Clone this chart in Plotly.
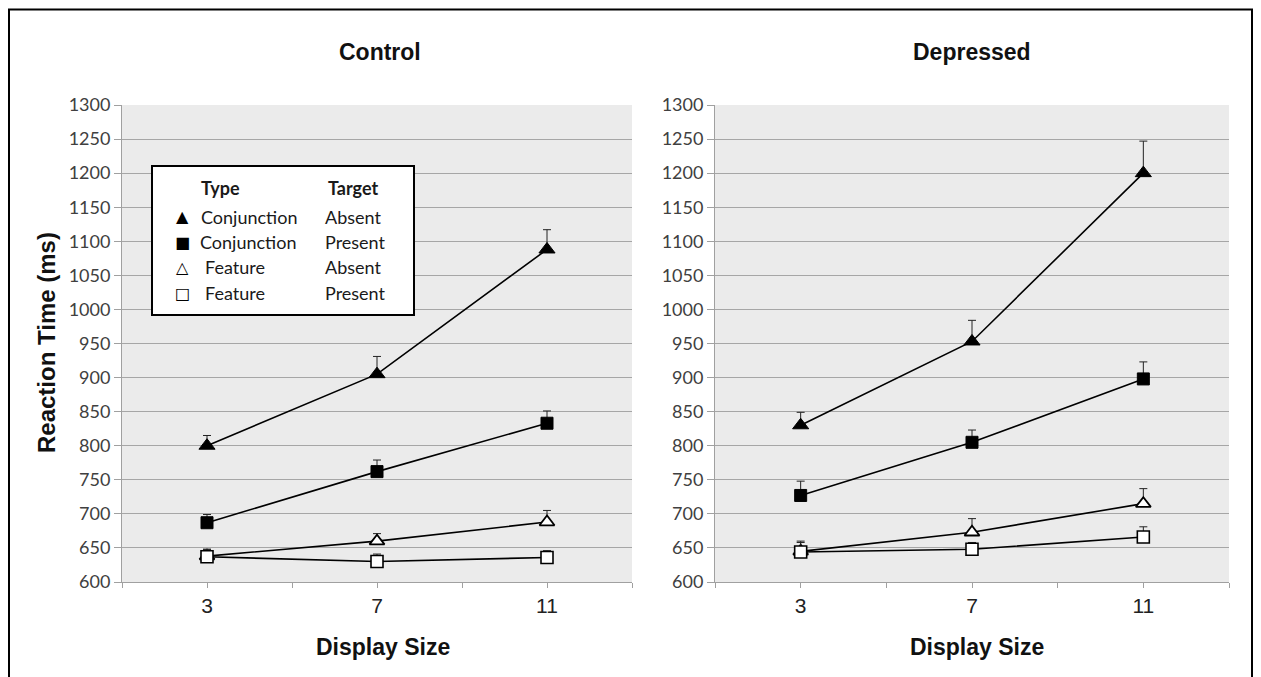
import plotly.graph_objects as go

# page body has an 8px default margin; the figure is sized to fit the 1261x677 window
OFF = 8
W, H = 1261 - OFF, 677 - OFF

display_sizes = [3, 7, 11]
x_tick_vals = [1, 3, 5, 7, 9, 11, 13]
x_tick_text = ["", "3", "", "7", "", "11", ""]
y_tick_vals = list(range(600, 1301, 50))

panel_titles = ["Control", "Depressed"]
x_title = "Display Size"
y_title = "Reaction Time (ms)"
series_types = ["Conjunction", "Conjunction", "Feature", "Feature"]
series_targets = ["Absent", "Present", "Absent", "Present"]

# Control group
control_conj_absent = [800, 905, 1088]
control_conj_present = [687, 762, 833]
control_feat_absent = [638, 660, 688]
control_feat_present = [637, 630, 636]
control_conj_absent_err = [15, 26, 29]
control_conj_present_err = [12, 17, 18]
control_feat_absent_err = [10, 11, 17]
control_feat_present_err = [11, 11, 10]

# Depressed group
depr_conj_absent = [830, 953, 1200]
depr_conj_present = [727, 805, 898]
depr_feat_absent = [645, 673, 715]
depr_feat_present = [644, 648, 666]
depr_conj_absent_err = [19, 31, 47]
depr_conj_present_err = [21, 18, 25]
depr_feat_absent_err = [15, 20, 22]
depr_feat_present_err = [14, 10, 15]


def px(x):
    return (x - OFF) / W


def py(y):
    return 1 - (y - OFF) / H


styles = [
    dict(symbol="triangle-up", size=14, color="black", lw=1),
    dict(symbol="square", size=12, color="black", lw=1),
    dict(symbol="triangle-up", size=13, color="white", lw=1.8),
    dict(symbol="square", size=12, color="white", lw=1.6),
]

groups = [
    ([control_conj_absent, control_conj_present, control_feat_absent, control_feat_present],
     [control_conj_absent_err, control_conj_present_err, control_feat_absent_err, control_feat_present_err]),
    ([depr_conj_absent, depr_conj_present, depr_feat_absent, depr_feat_present],
     [depr_conj_absent_err, depr_conj_present_err, depr_feat_absent_err, depr_feat_present_err]),
]

fig = go.Figure()

for gi, (vals, errs) in enumerate(groups):
    xa = "x" if gi == 0 else "x2"
    ya = "y" if gi == 0 else "y2"
    for si in range(4):
        st = styles[si]
        fig.add_trace(go.Scatter(
            x=display_sizes, y=vals[si], xaxis=xa, yaxis=ya,
            mode="lines+markers",
            line=dict(color="black", width=1.6),
            marker=dict(symbol=st["symbol"], size=st["size"], color=st["color"],
                        line=dict(color="black", width=st["lw"])),
            error_y=dict(type="data", symmetric=False, array=errs[si],
                         arrayminus=[0, 0, 0], color="#222222", thickness=1, width=4),
            showlegend=False,
            name=f"{series_types[si]} {series_targets[si]}",
        ))

axis_common_x = dict(
    range=[1, 13], tickvals=x_tick_vals, ticktext=x_tick_text,
    ticks="outside", ticklen=5, tickcolor="#a0a0a0", tickwidth=1,
    showline=True, linecolor="#a0a0a0", linewidth=1, showgrid=False, zeroline=False,
    tickfont=dict(family="Liberation Sans, Arial", size=21, color="#222222"),
    automargin=False,
    fixedrange=True,
)
axis_common_y = dict(
    range=[600, 1300], tickvals=y_tick_vals,
    ticks="outside", ticklen=7, tickcolor="#a0a0a0", tickwidth=1,
    showline=True, linecolor="#a0a0a0", linewidth=1,
    showgrid=True, gridcolor="#a6a6a6", gridwidth=1, zeroline=False,
    tickfont=dict(family="Lato, Open Sans", size=18, color="#404040"),
    automargin=False,
    fixedrange=True,
)

fig.update_layout(
    width=W, height=H,
    margin=dict(l=0, r=0, t=0, b=0, autoexpand=False),
    paper_bgcolor="white",
    plot_bgcolor="#ebebeb",
    xaxis=dict(domain=[px(122), px(632)], anchor="y", **axis_common_x),
    yaxis=dict(domain=[py(582), py(105)], anchor="x", **axis_common_y),
    xaxis2=dict(domain=[px(715), px(1229)], anchor="y2", **axis_common_x),
    yaxis2=dict(domain=[py(582), py(105)], anchor="x2", **axis_common_y),
    showlegend=False,
)

title_font = dict(family="Liberation Sans, Arial", size=23, color="#111111")

# Panel titles and x-axis titles
for cx, t in zip([380, 972], panel_titles):
    fig.add_annotation(x=px(cx), y=py(52), xref="paper", yref="paper", text=f"<b>{t}</b>",
                       showarrow=False, xanchor="center", yanchor="middle", font=title_font)
for cx in [383, 977]:
    fig.add_annotation(x=px(cx), y=py(647), xref="paper", yref="paper", text=f"<b>{x_title}</b>",
                       showarrow=False, xanchor="center", yanchor="middle", font=title_font)

# y-axis title
fig.add_annotation(x=px(46), y=py(343), xref="paper", yref="paper", text=f"<b>{y_title}</b>",
                   showarrow=False, xanchor="center", yanchor="middle", textangle=-90,
                   font=dict(family="Liberation Sans, Arial", size=24, color="#111111"))

# Outer frame
fig.add_shape(type="rect", xref="paper", yref="paper",
              x0=px(9), x1=px(1252), y0=py(700), y1=py(9.5),
              line=dict(color="black", width=2), fillcolor="rgba(0,0,0,0)", layer="above")

# Legend box
fig.add_shape(type="rect", xref="paper", yref="paper",
              x0=px(152), x1=px(414), y0=py(315), y1=py(166),
              line=dict(color="black", width=2), fillcolor="white", layer="above")

legend_font = dict(family="Lato, Open Sans", size=18, color="#1a1a1a")
fig.add_annotation(x=px(199), y=py(188), xref="paper", yref="paper", text="<b>Type</b>",
                   showarrow=False, xanchor="left", yanchor="middle", font=legend_font)
fig.add_annotation(x=px(326), y=py(188), xref="paper", yref="paper", text="<b>Target</b>",
                   showarrow=False, xanchor="left", yanchor="middle", font=legend_font)

legend_symbols = ["\u25B2", "\u25A0", "\u25B3", "\u25A1"]
row_y = [217, 242, 267, 293]
type_x = [199, 198, 203, 203]
for i in range(4):
    fig.add_annotation(x=px(182), y=py(row_y[i]), xref="paper", yref="paper",
                       text=legend_symbols[i], showarrow=False, xanchor="center", yanchor="middle",
                       font=dict(family="DejaVu Sans", size=16, color="black"))
    fig.add_annotation(x=px(type_x[i]), y=py(row_y[i]), xref="paper", yref="paper",
                       text=series_types[i], showarrow=False, xanchor="left", yanchor="middle",
                       font=legend_font)
    fig.add_annotation(x=px(323), y=py(row_y[i]), xref="paper", yref="paper",
                       text=series_targets[i], showarrow=False, xanchor="left", yanchor="middle",
                       font=legend_font)

fig.write_html("out.html")
